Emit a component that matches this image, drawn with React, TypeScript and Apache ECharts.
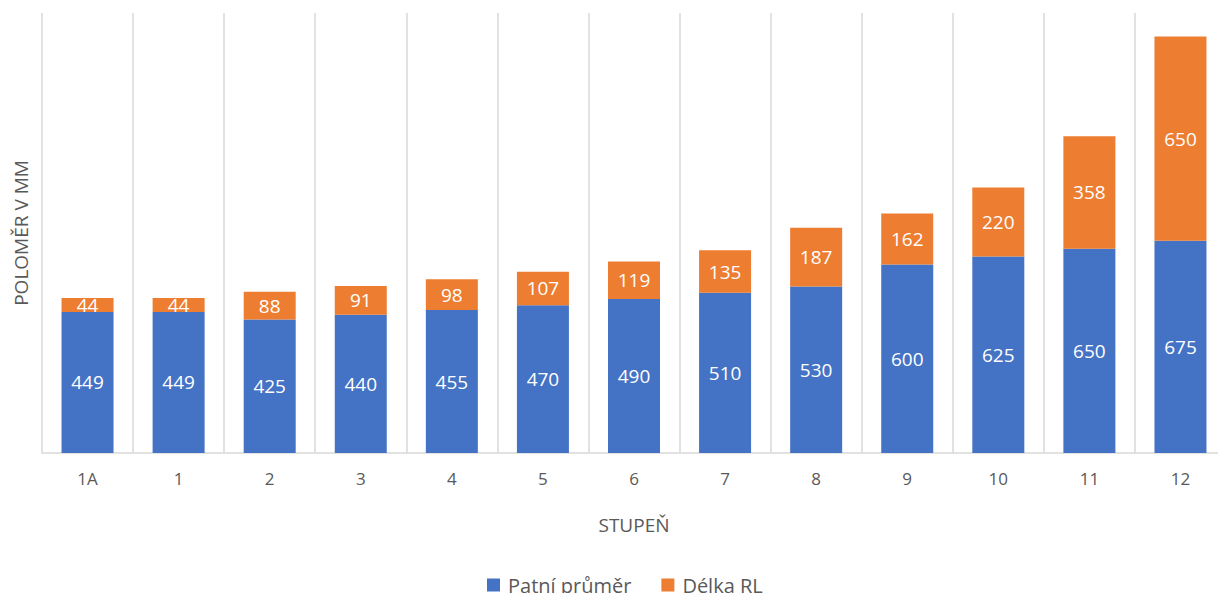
import React, { useEffect, useRef } from "react";
import * as echarts from "echarts";

const categories = ["1A", "1", "2", "3", "4", "5", "6", "7", "8", "9", "10", "11", "12"];
const patniPrumer = [449, 449, 425, 440, 455, 470, 490, 510, 530, 600, 625, 650, 675];
const delkaRL = [44, 44, 88, 91, 98, 107, 119, 135, 187, 162, 220, 358, 650];

const FONT = "'Open Sans', 'Noto Sans', sans-serif";

export default function App() {
  const ref = useRef<HTMLDivElement>(null);

  useEffect(() => {
    if (!ref.current) return;
    const chart = echarts.init(ref.current, null, { renderer: "svg" });
    const label = {
      show: true,
      position: "inside",
      color: "#ffffff",
      fontSize: 19,
      fontFamily: FONT,
    };
    chart.setOption({
      animation: false,
      textStyle: { fontFamily: FONT },
      // plot area runs slightly past the right edge of the visible page
      grid: { left: 42, right: 0, top: 13, bottom: 140, containLabel: false },
      legend: {
        bottom: -7,
        left: 482,
        itemWidth: 13,
        itemHeight: 13,
        itemGap: 30,
        icon: "rect",
        textStyle: { color: "#595959", fontSize: 20, fontFamily: FONT, padding: [0, 0, 0, 3] },
        data: ["Patní průměr", "Délka RL"],
      },
      xAxis: {
        type: "category",
        data: categories,
        name: "STUPEŇ",
        nameLocation: "middle",
        nameGap: 62,
        nameTextStyle: { color: "#595959", fontSize: 19, fontFamily: FONT },
        axisLine: { lineStyle: { color: "#d9d9d9", width: 1.5 } },
        axisTick: { show: false },
        axisLabel: { color: "#595959", fontSize: 17, margin: 17, fontFamily: FONT },
        splitLine: { show: true, lineStyle: { color: "#d9d9d9", width: 1.5 } },
      },
      yAxis: {
        type: "value",
        min: 0,
        max: 1400,
        name: "POLOMĚR V MM",
        nameLocation: "middle",
        nameGap: 12,
        nameTextStyle: { color: "#595959", fontSize: 19, fontFamily: FONT },
        axisLine: { show: false },
        axisTick: { show: false },
        axisLabel: { show: false },
        splitLine: { show: false },
      },
      series: [
        {
          name: "Patní průměr",
          type: "bar",
          stack: "total",
          barWidth: 52,
          data: patniPrumer,
          itemStyle: { color: "#4472C4" },
          label,
        },
        {
          name: "Délka RL",
          type: "bar",
          stack: "total",
          barWidth: 52,
          data: delkaRL,
          itemStyle: { color: "#ED7D31" },
          label,
        },
      ],
    });
    return () => chart.dispose();
  }, []);

  return (
    <div style={{ position: "fixed", left: 0, top: 0, width: 1218, height: 593, overflow: "hidden", background: "#fff" }}>
      <div ref={ref} style={{ width: 1226, height: 593 }} />
    </div>
  );
}
